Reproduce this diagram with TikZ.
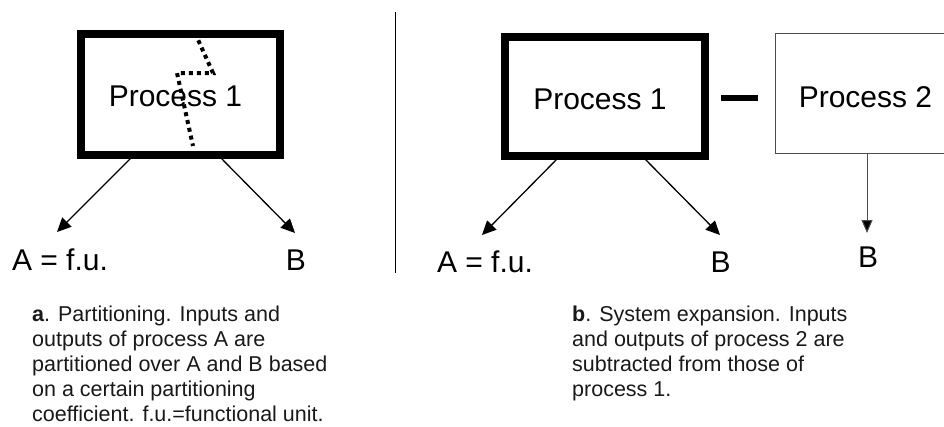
\documentclass[tikz,border=0pt]{standalone}
\usepackage{fontspec}
\setmainfont{Liberation Sans}
\usetikzlibrary{arrows.meta}
\begin{document}
\begin{tikzpicture}[x=1pt,y=-1pt,
  heavybox/.style={draw=black,line width=8pt,fill=none},
  lightbox/.style={draw=black!70,line width=1pt},
  arr/.style={line width=1.3pt,-{Triangle[length=14pt,width=13pt]}},
  thinarr/.style={draw=black!70,line width=1pt,-{Triangle[length=13pt,width=11pt,fill=black]}},
  proclabel/.style={font=\fontsize{30}{30}\selectfont,inner sep=0pt,anchor=base},
  outlabel/.style={font=\fontsize{30}{30}\selectfont,inner sep=0pt,anchor=base},
  caption/.style={font=\fontsize{21.5}{25}\selectfont,inner sep=0pt,anchor=north west,align=left,text=black!90},
  partline/.style={line width=4pt,dash pattern=on 4pt off 4pt}
]
\useasboundingbox (0,0) rectangle (944,426);
\clip (0,0) rectangle (944,426);

% ---------- Left: partitioning ----------
\node[heavybox,minimum width=199.5pt,minimum height=121pt,anchor=north west] (lbox) at (76.5,29.5) {};
\node[proclabel] (lproc) at (175.5,106) {Process 1};
\coordinate (d0) at (195,33);
\coordinate (d1) at (213,73);
\coordinate (d2) at (177,73);
\coordinate (d3) at (193,146);
\draw[partline] (d0) -- (d1) -- (d2) -- (d3);

\coordinate (lsa) at (135,154);
\coordinate (lsb) at (217,154);
\node[outlabel] (lA) at (60,270) {A = f.u.};
\node[outlabel] (lB) at (296,270) {B};
\coordinate (lta) at (57,232);
\coordinate (ltb) at (295,233);
\draw[arr] (lsa) -- (lta);
\draw[arr] (lsb) -- (ltb);

% separator
\coordinate (s0) at (395.5,12);
\coordinate (s1) at (395.5,273);
\draw[line width=1.3pt] (s0) -- (s1);

\node[caption] (capa) at (32,306) {\textbf{a}. Partitioning. Inputs and\\outputs of process A are\\partitioned over A and B based\\on a certain partitioning\\coefficient. f.u.=functional unit.};

% ---------- Right: system expansion ----------
\node[heavybox,minimum width=199.5pt,minimum height=119pt,anchor=north west] (rbox) at (501,33) {};
\node[proclabel] (rproc) at (600,109.5) {Process 1};

\node[draw=none,fill=black,minimum width=37pt,minimum height=6pt,inner sep=0pt] (minus) at (739.5,97.5) {};

\coordinate (p2a) at (1000,33);
\coordinate (p2b) at (775,33);
\coordinate (p2c) at (775,153);
\coordinate (p2d) at (1000,153);
\draw[lightbox] (p2a) -- (p2b) -- (p2c) -- (p2d);
\node[proclabel] (p2) at (865.5,107) {Process 2};

\node[outlabel] (rA) at (485,272) {A = f.u.};
\node[outlabel] (rB) at (720.5,272) {B};
\node[outlabel] (rB2) at (868,267) {B};
\coordinate (rsa) at (560,156);
\coordinate (rsb) at (642,156);
\coordinate (rta) at (482,235);
\coordinate (rtb) at (720,235);
\draw[arr] (rsa) -- (rta);
\draw[arr] (rsb) -- (rtb);
\coordinate (p2s) at (867,153);
\coordinate (p2t) at (867,233);
\draw[thinarr] (p2s) -- (p2t);

\node[caption] (capb) at (572,306) {\textbf{b}. System expansion. Inputs\\and outputs of process 2 are\\subtracted from those of\\process 1.};
\end{tikzpicture}
\end{document}
